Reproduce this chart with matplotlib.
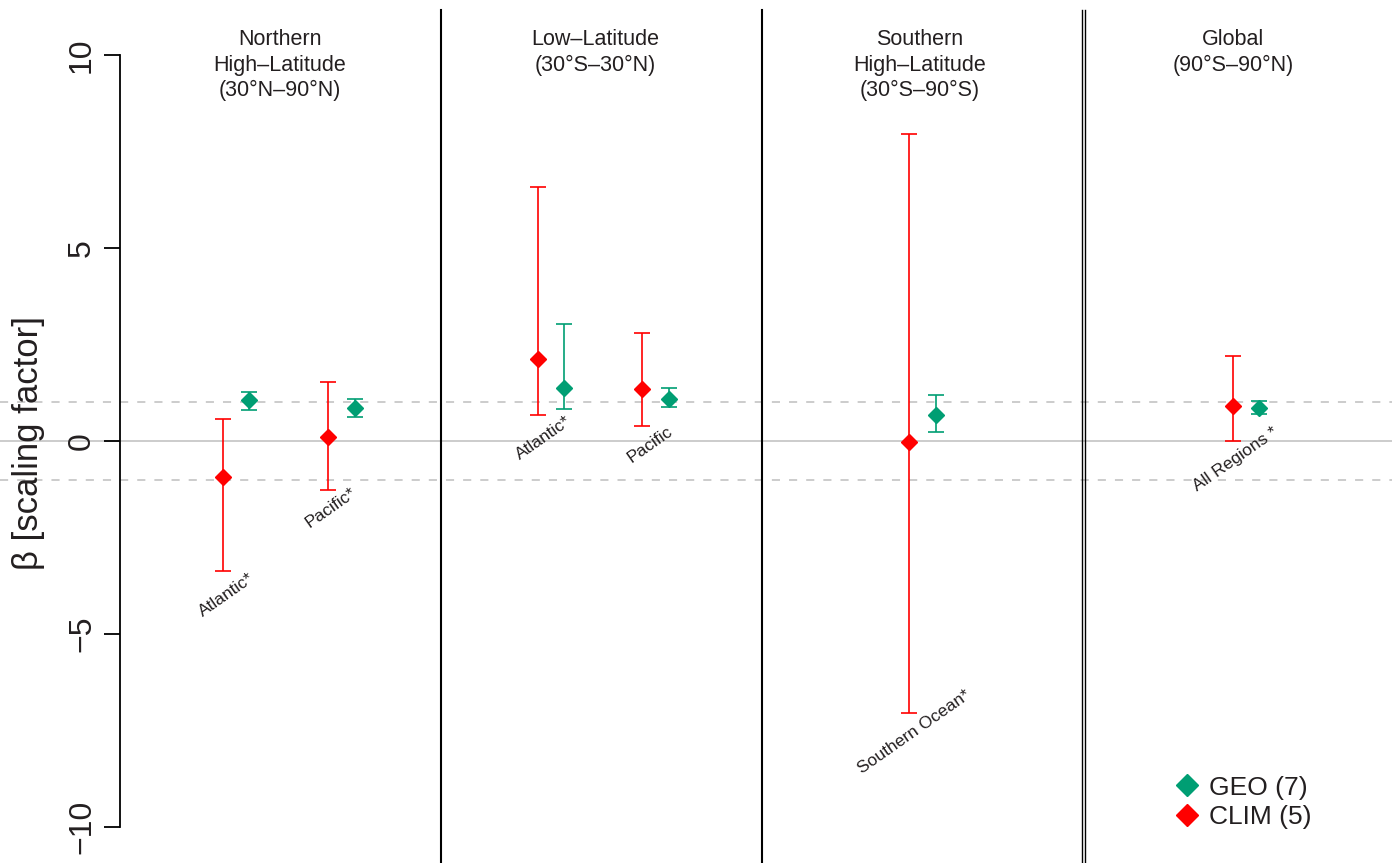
import matplotlib
matplotlib.use("Agg")
import matplotlib.pyplot as plt
from matplotlib.lines import Line2D
import matplotlib.transforms as mtransforms

plt.rcParams['font.family'] = ['Liberation Sans', 'DejaVu Sans']

# ---- data -------------------------------------------------------------
panel_titles = ["Northern\nHigh\u2013Latitude\n(30\u00b0N\u201390\u00b0N)",
                "Low\u2013Latitude\n(30\u00b0S\u201330\u00b0N)",
                "Southern\nHigh\u2013Latitude\n(30\u00b0S\u201390\u00b0S)",
                "Global\n(90\u00b0S\u201390\u00b0N)"]
region_labels = ["Atlantic*", "Pacific*", "Atlantic*", "Pacific",
                 "Southern Ocean*", "All Regions *"]

clim_beta = [-0.94, 0.11, 2.12, 1.34, -0.04, 0.91]
clim_low = [-3.38, -1.28, 0.66, 0.40, -7.06, 0.00]
clim_high = [0.56, 1.52, 6.58, 2.81, 7.95, 2.20]

geo_beta = [1.06, 0.85, 1.37, 1.08, 0.67, 0.85]
geo_low = [0.80, 0.61, 0.82, 0.87, 0.23, 0.70]
geo_high = [1.26, 1.08, 3.04, 1.36, 1.20, 1.04]

legend_labels = ["GEO (7)", "CLIM (5)"]
y_ticks = [-10, -5, 0, 5, 10]

# ---- layout -----------------------------------------------------------
region_x = [0.361, 0.690, 1.342, 1.668, 2.500, 3.508]
pair_offset = 0.041
title_x = [0.497, 1.481, 2.490, 3.467]
label_xy = [(0.333, -3.99), (0.657, -1.74), (1.318, 0.08),
            (1.651, -0.10), (2.474, -7.55), (3.477, -0.47)]

TXT = "#231f20"
RED = "#ff0000"
GREEN = "#009e73"

fig = plt.figure(figsize=(13.92, 8.63), dpi=100)
ax = fig.add_axes([0, 0, 1, 1])
ax.set_xlim(-0.374, 3.963)
ax.set_ylim(-10.94, 11.43)

# reference lines
ax.axhline(0, color="#c8c8c8", lw=1.3, zorder=1)
for yv in (1, -1):
    ax.axhline(yv, color="#c8c8c8", lw=1.3, ls=(0, (4.5, 5)), zorder=1)

# panel separators
top = 11.17
for xs in (1, 2):
    ax.plot([xs, xs], [-11, top], color="black", lw=1.5, zorder=2,
            clip_on=False)
for xs in (2.9985, 3.0065):
    ax.plot([xs, xs], [-11, top], color="black", lw=1.0, zorder=2,
            clip_on=False)

# error bars
clim_x = [x - pair_offset for x in region_x]
geo_x = [x + pair_offset for x in region_x]
clim_err = [[b - lo for b, lo in zip(clim_beta, clim_low)],
            [hi - b for b, hi in zip(clim_beta, clim_high)]]
geo_err = [[b - lo for b, lo in zip(geo_beta, geo_low)],
           [hi - b for b, hi in zip(geo_beta, geo_high)]]
ax.errorbar(clim_x, clim_beta, yerr=clim_err, fmt="D", color=RED,
            ms=8.6, mec=RED, elinewidth=1.2, capsize=5.5, capthick=1.2,
            zorder=4)
ax.errorbar(geo_x, geo_beta, yerr=geo_err, fmt="D", color=GREEN,
            ms=8.6, mec=GREEN, elinewidth=1.2, capsize=5.5, capthick=1.2,
            zorder=4)

# region labels
for (lx, ly), lab in zip(label_xy, region_labels):
    ax.text(lx, ly, lab, rotation=35, ha="center", va="center",
            fontsize=12.5, color=TXT)

# panel titles
trans = mtransforms.blended_transform_factory(ax.transData, ax.transAxes)
for tx, title in zip(title_x, panel_titles):
    ax.text(tx, 0.966, title, transform=trans, ha="center", va="top",
            fontsize=15.5, color=TXT, linespacing=1.28)

# left axis in the R style
for side in ("top", "right", "bottom"):
    ax.spines[side].set_visible(False)
ax.spines["left"].set_position(("data", 0))
ax.spines["left"].set_bounds(-10, 10)
ax.spines["left"].set_linewidth(1.3)
ax.set_yticks(y_ticks)
ax.set_yticklabels([str(t).replace("-", "\u2212") for t in y_ticks],
                   rotation=90, va="center", fontsize=23, color=TXT)
ax.tick_params(axis="y", direction="out", length=11.5, width=1.3, pad=5)
ax.set_xticks([])
ax.set_ylabel("\u03b2 [scaling factor]", fontsize=25, color=TXT)
ax.yaxis.set_label_coords(0.032, 0.487)

# legend
handles = [Line2D([], [], ls="none", marker="D", ms=11, color=GREEN),
           Line2D([], [], ls="none", marker="D", ms=11, color=RED)]
leg = ax.legend(handles, legend_labels, loc="center left",
                bbox_to_anchor=(0.836, 0.070), frameon=False, fontsize=19,
                handlelength=1.0, handletextpad=0.3, labelspacing=0.22,
                borderaxespad=0)
for t in leg.get_texts():
    t.set_color(TXT)

fig.savefig("out.png", dpi=100)
